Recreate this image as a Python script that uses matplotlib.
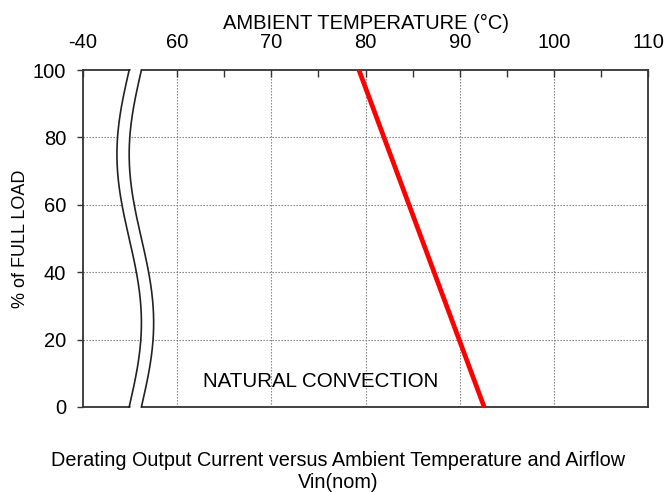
import numpy as np
import matplotlib.pyplot as plt

plt.rcParams['font.family'] = ['Liberation Sans', 'DejaVu Sans']

# data
temp = [79.3, 92.6]          # ambient temperature (C)
load = [100, 0]              # % of full load
x_ticks = [50, 60, 70, 80, 90, 100, 110]
x_labels = ['-40', '60', '70', '80', '90', '100', '110']
x_minor = [65, 75, 85, 95, 105]
y_ticks = [0, 20, 40, 60, 80, 100]

fig = plt.figure(figsize=(6.68, 4.92), dpi=100)
ax = fig.add_axes([0.1243, 0.1728, 0.9701 - 0.1243, 0.8577 - 0.1728])

ax.set_xlim(50, 110)
ax.set_ylim(0, 100)

# top x axis
ax.xaxis.tick_top()
ax.xaxis.set_label_position('top')
ax.set_xticks(x_ticks)
ax.set_xticklabels(x_labels)
ax.set_xticks(x_minor, minor=True)
ax.tick_params(axis='x', which='both', direction='in', length=5, width=1,
               color='#333333', labelsize=14.5, pad=13)
ax.set_yticks(y_ticks)
ax.tick_params(axis='y', direction='out', length=4, width=1,
               color='#333333', labelsize=14.5, pad=8)
ax.set_xlabel('AMBIENT TEMPERATURE (\u00b0C)', fontsize=14.5, labelpad=3)
ax.set_ylabel('% of FULL LOAD', fontsize=13, labelpad=3)

for s in ax.spines.values():
    s.set_color('#333333')
    s.set_linewidth(1.3)

# dotted grid
for gx in x_ticks[1:-1]:
    ax.axvline(gx, color='#777777', ls=(0, (1.2, 1.5)), lw=0.8, zorder=1)
for gy in y_ticks[1:-1]:
    ax.axhline(gy, color='#777777', ls=(0, (1.2, 1.5)), lw=0.8, zorder=1)

# axis break (wavy)
yy = np.linspace(0, 100, 200)
left = 54.9 + 1.3 * np.sin(2 * np.pi * yy / 100)
right = left + 1.3
yy2 = np.linspace(-1.5, 101.5, 200)
left2 = 54.9 + 1.3 * np.sin(2 * np.pi * yy2 / 100)
ax.fill_betweenx(yy2, left2 + 0.08, left2 + 1.22, color='white', zorder=3,
                 clip_on=False, lw=0)
ax.plot(left, yy, color='#222222', lw=1.2, zorder=4, clip_on=False)
ax.plot(right, yy, color='#222222', lw=1.2, zorder=4, clip_on=False)

ax.plot(temp, load, color='#ff0000', lw=3.4, zorder=5, clip_on=False,
        solid_capstyle='butt')

ax.text(62.7, 7.7, 'NATURAL CONVECTION', fontsize=14.8, va='center',
        ha='left', zorder=6)

fig.text(0.506, 0.0417, 'Derating Output Current versus Ambient Temperature and Airflow\nVin(nom)',
         ha='center', va='center', fontsize=14.3, linespacing=1.15)

fig.savefig('out.png', dpi=100)
